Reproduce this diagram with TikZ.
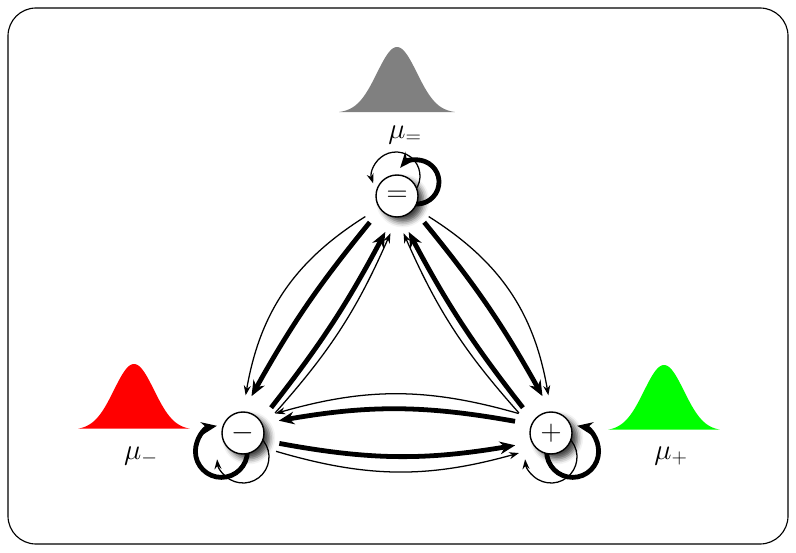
\documentclass[tikz,border=0pt]{standalone}
\usepackage{tikz}
\usetikzlibrary{arrows.meta, backgrounds, shadows.blur}

\begin{document}
\begin{tikzpicture}[
    state/.style={circle, draw, line width=1pt, fill=white, minimum size=1.05cm, inner sep=0pt, outer sep=0.42cm, font=\huge, blur shadow={shadow xshift=0.14cm, shadow yshift=-0.12cm, shadow blur radius=0.14cm, shadow opacity=75}},
    meanlabel/.style={font=\huge, inner sep=0pt},
    thinarrow/.style={line width=0.9pt, -{Stealth[length=7pt, width=5pt]}},
    thickarrow/.style={line width=3.4pt, -{Stealth[length=11pt, width=9pt]}}
]
\useasboundingbox (0,0) rectangle (19.9,13.8);
\draw[rounded corners=0.7cm, line width=0.8pt] (0.2,0.2) rectangle (19.7,13.6);

% distributions
\fill[gray, shift={(9.925,10.975)}] plot[domain=-1.45:1.45, samples=80] (\x, {1.65*exp(-2*\x*\x)}) -- cycle;
\fill[red, shift={(3.35,3.05)}] plot[domain=-1.4:1.4, samples=80] (\x, {1.65*exp(-2*\x*\x)}) -- cycle;
\fill[green, shift={(16.6,3.025)}] plot[domain=-1.4:1.4, samples=80] (\x, {1.65*exp(-2*\x*\x)}) -- cycle;

\node[meanlabel] (mueq) at (10.125,10.425) {$\mu_{=}$};
\node[meanlabel] (muminus) at (3.525,2.4) {$\mu_{-}$};
\node[meanlabel] (muplus) at (16.775,2.4) {$\mu_{+}$};

% states
\node[state] (eq) at (9.925,8.9) {$=$};
\node[state] (minus) at (6.075,2.975) {$-$};
\node[state] (plus) at (13.775,2.975) {$+$};

% transitions
\draw[thinarrow] (eq.213) to[bend right=24] (minus.86);
\draw[thickarrow] (eq.224) to[bend right=5] (minus.77);
\draw[thickarrow] (minus.42) to[bend right=5] (eq.252);
\draw[thinarrow] (minus.32) to[bend right=9] (eq.260);

\draw[thinarrow] (eq.327) to[bend left=24] (plus.94);
\draw[thickarrow] (eq.316) to[bend left=5] (plus.103);
\draw[thickarrow] (plus.138) to[bend left=5] (eq.288);
\draw[thinarrow] (plus.148) to[bend left=9] (eq.280);

\draw[thinarrow] (plus.149) to[bend right=16] (minus.31);
\draw[thickarrow] (plus.162) to[bend right=10] (minus.19);
\draw[thickarrow] (minus.344) to[bend right=10] (plus.199);
\draw[thinarrow] (minus.331) to[bend right=16] (plus.212);

% self loops
\begin{scope}[on background layer]
\draw[thinarrow] (eq.center) ++(-0.025,0.5) ++(-60:0.6) arc[start angle=-60, end angle=198, radius=0.6];
\draw[thickarrow] (eq.center) ++(0.5,0.35) ++(250:0.55) arc[start angle=250, end angle=500, radius=0.55];
\draw[thickarrow] (minus.center) ++(-0.54,-0.46) ++(0:0.65) arc[start angle=0, end angle=-260, radius=0.65];
\draw[thinarrow] (minus.center) ++(0,-0.6) ++(60:0.65) arc[start angle=60, end angle=-175, radius=0.65];
\draw[thickarrow] (plus.center) ++(0.54,-0.46) ++(180:0.65) arc[start angle=180, end angle=440, radius=0.65];
\draw[thinarrow] (plus.center) ++(0,-0.6) ++(60:0.65) arc[start angle=60, end angle=-175, radius=0.65];
\end{scope}

\end{tikzpicture}
\end{document}
